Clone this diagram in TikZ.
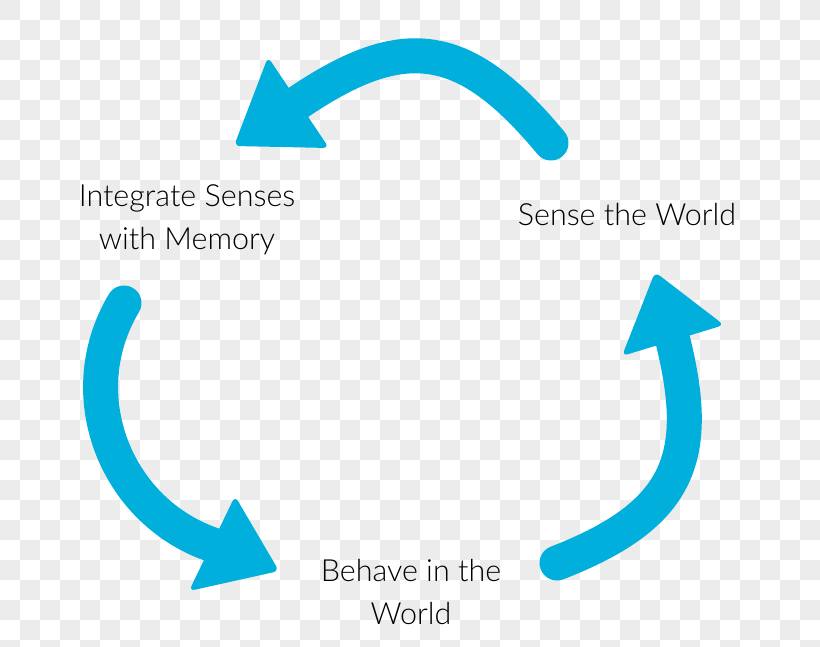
\documentclass[tikz,border=0pt]{standalone}
\usepackage{fontspec}
\setmainfont{Lato Light}
\definecolor{loopblue}{RGB}{0,175,219}
\definecolor{checker}{RGB}{236,236,236}
\tikzset{
    shaft/.style={line width=35pt, line cap=round, draw=loopblue},
    head/.style={fill=loopblue, rounded corners=6pt},
    looptext/.style={inner sep=0pt, align=center, text=black,
        font=\fontsize{30.5}{43}\selectfont}
}
\begin{document}
\begin{tikzpicture}[x=1pt, y=-1pt]
    \fill[white] (0,0) rectangle (820,646);
    \begin{scope}
        \clip (0,0) rectangle (820,646);
        \foreach \i in {0,2,...,40}
            \foreach \j in {0,2,...,32} {
                \fill[checker] (20*\i,20*\j) rectangle ++(20,20);
                \fill[checker] (20*\i+20,20*\j+20) rectangle ++(20,20);
            }
    \end{scope}
    \useasboundingbox (0,0) rectangle (820,646);
    \node[looptext] (integrate) at (187,220) {Integrate Senses\\with Memory};
    \node[looptext] (sense) at (627,215) {Sense the World};
    \node[looptext] (behave) at (411,592) {Behave in the\\World};
    \coordinate (senseTail) at (551,143);
    \coordinate (integrateIn) at (286,111);
    \coordinate (integrateTail) at (124,303);
    \coordinate (behaveIn) at (226.5,549);
    \coordinate (behaveTail) at (557,563);
    \coordinate (senseIn) at (669,325.5);
    \draw[shaft] (senseTail) .. controls (462,36) and (400,30) .. (integrateIn);
    \fill[head] (268,57) -- (234,146) -- (329,148) -- cycle;
    \draw[shaft] (integrateTail) .. controls (67,398) and (119,522) .. (behaveIn);
    \fill[head] (235,496) -- (279,571) -- (189,591) -- cycle;
    \draw[shaft] (behaveTail) .. controls (687,512.6) and (702.8,451) .. (senseIn);
    \fill[head] (655,272) -- (724,325) -- (622,356) -- cycle;
\end{tikzpicture}
\end{document}
